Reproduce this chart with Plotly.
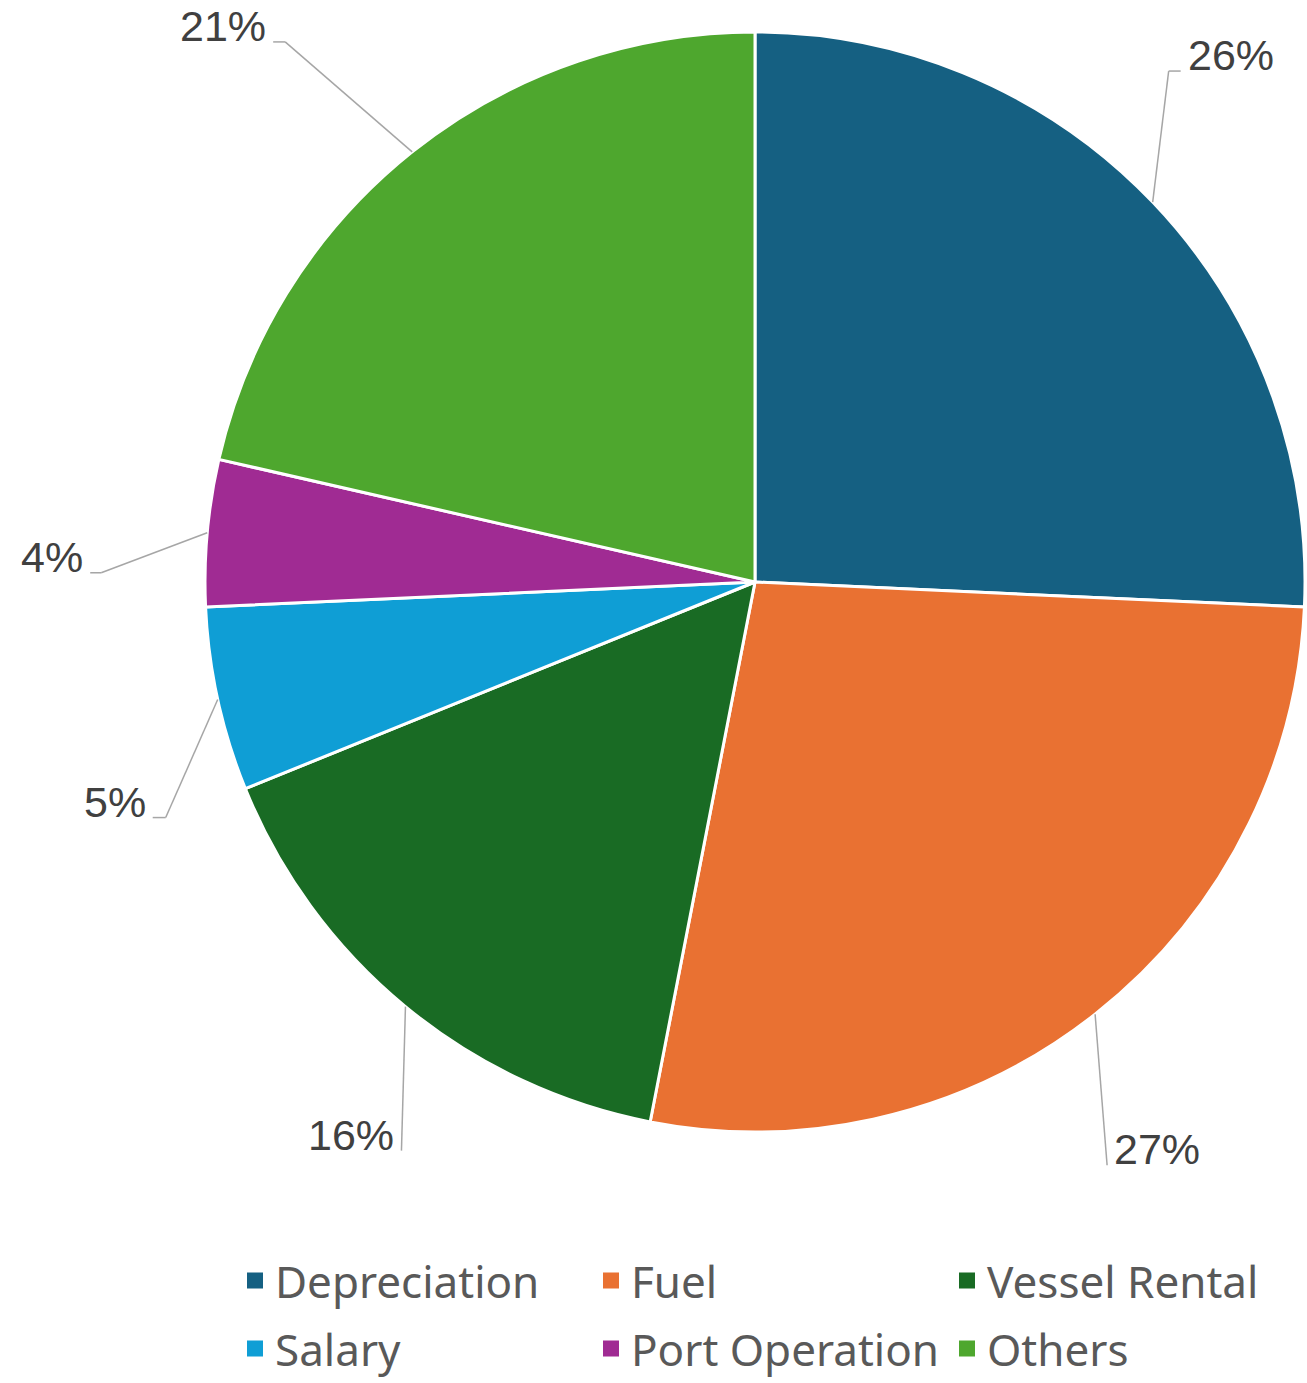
import math
import plotly.graph_objects as go

# ---- data ----
categories = ["Depreciation", "Fuel", "Vessel Rental", "Salary", "Port Operation", "Others"]
values = [25.7, 27.3, 15.8, 5.4, 4.3, 21.4]
colors = ["#156082", "#E97132", "#196B24", "#0F9ED5", "#A02B93", "#4EA72E"]

# ---- layout constants (pixels) ----
W, H = 1307, 1383
CX, CY, R = 755, 582, 550
# leader-line layout: (elbow dx, elbow dy from slice anchor, tail length, text side)
label_layout = [
    (16, -131, 12, "right"),
    (12, 151, 0, "right"),
    (-4, 144, 0, "left"),
    (-52, 118, -13, "left"),
    (-106, 40, -11, "left"),
    (-127, -110, -12, "left"),
]


def px(x):
    return x / W


def py(y):
    return 1 - y / H


fig = go.Figure()

fig.add_trace(go.Pie(
    labels=categories,
    values=values,
    sort=False,
    direction="clockwise",
    rotation=0,
    marker=dict(colors=colors, line=dict(color="white", width=3)),
    textinfo="none",
    hoverinfo="label+percent",
    showlegend=False,
    domain=dict(x=[px(CX - R), px(CX + R)], y=[py(CY + R), py(CY - R)]),
))

# legend entries (two rows as two legends)
for i, (cat, col) in enumerate(zip(categories, colors)):
    fig.add_trace(go.Scatter(
        x=[None], y=[None], mode="markers", name=cat,
        marker=dict(symbol="square", size=16, color=col),
        legend="legend" if i < 3 else "legend2",
    ))

# data labels with leader lines, computed from the values
total = sum(values)
cum = 0.0
shapes = []
annotations = []
label_font = dict(family="Liberation Sans, Arial", size=43, color="#404040")
for v, (edx, edy, tail, side) in zip(values, label_layout):
    frac = v / total
    mid = (cum + frac / 2) * 2 * math.pi
    cum += frac
    ax = CX + R * math.sin(mid)
    ay = CY - R * math.cos(mid)
    ex, ey = ax + edx, ay + edy
    tx = ex + tail
    line = dict(type="line", xref="paper", yref="paper",
                line=dict(color="#A6A6A6", width=1.5), layer="above")
    shapes.append({**line, "x0": px(ax), "y0": py(ay), "x1": px(ex), "y1": py(ey)})
    if tail:
        shapes.append({**line, "x0": px(ex), "y0": py(ey), "x1": px(tx), "y1": py(ey)})
    pct = round(frac * 100)
    if side == "right":
        annotations.append(dict(x=px(tx + 5), y=py(ey - 16), xref="paper", yref="paper",
                                text=f"{pct}%", showarrow=False, xanchor="left", yanchor="middle",
                                font=label_font))
    else:
        annotations.append(dict(x=px(tx - 5), y=py(ey - 16), xref="paper", yref="paper",
                                text=f"{pct}%", showarrow=False, xanchor="right", yanchor="middle",
                                font=label_font))

legend_common = dict(
    orientation="h", xanchor="left", yanchor="middle",
    font=dict(family="Noto Sans", size=44, color="#595959"),
    entrywidth=311, entrywidthmode="pixels",
    bgcolor="rgba(0,0,0,0)", itemclick=False, itemdoubleclick=False,
)

fig.update_layout(
    width=W, height=H,
    margin=dict(l=0, r=0, t=0, b=0, autoexpand=False),
    paper_bgcolor="white", plot_bgcolor="white",
    xaxis=dict(visible=False), yaxis=dict(visible=False),
    shapes=shapes, annotations=annotations,
    legend=dict(x=px(235), y=py(1281), **legend_common),
    legend2=dict(x=px(235), y=py(1349), **legend_common),
)

fig.write_html(
    "out.html",
    config={"displayModeBar": False},
    post_script="document.body.style.margin='0';document.body.style.overflow='hidden';",
)
